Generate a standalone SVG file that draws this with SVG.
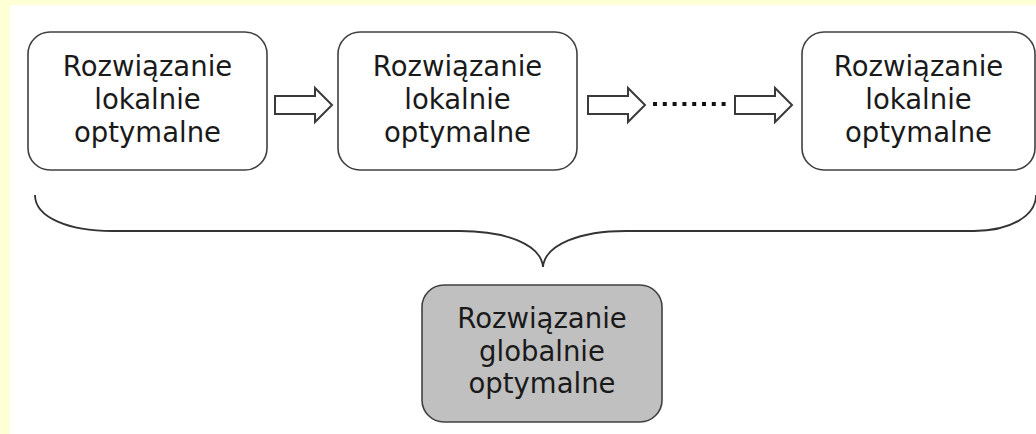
<svg xmlns="http://www.w3.org/2000/svg" width="1036" height="434" viewBox="0 0 1036 434">
  <style>
    .box { fill: #ffffff; stroke: #404040; stroke-width: 1.6; }
    .box.global { fill: #c0c0c0; }
    .label { font-family: "DejaVu Sans", Verdana, sans-serif; font-size: 27.5px; fill: #1a1a1a; text-anchor: middle; }
    .arrow { fill: #ffffff; stroke: #3a3a3a; stroke-width: 2; stroke-linejoin: miter; }
    .brace { fill: none; stroke: #333333; stroke-width: 1.8; }
    .dot { fill: #111111; }
  </style>
  <defs>
    <!-- hollow block arrow, origin at the left end of the shaft centre line -->
    <path id="block-arrow" d="M0,-9 H40 V-17 L57,0 L40,17 V9 H0 Z"/>
  </defs>

  <!-- page background with a pale yellow margin -->
  <rect x="0" y="0" width="1036" height="434" fill="#ffffd5"/>
  <rect x="10" y="5" width="1026" height="429" fill="#ffffff"/>

  <g id="node-local-1">
    <rect class="box" x="28" y="32" width="239" height="138" rx="22" ry="22"/>
    <text class="label" x="147.5" y="76">Rozwiązanie</text>
    <text class="label" x="147.5" y="109">lokalnie</text>
    <text class="label" x="147.5" y="142">optymalne</text>
  </g>

  <g id="node-local-2">
    <rect class="box" x="338" y="32" width="239" height="138" rx="22" ry="22"/>
    <text class="label" x="457.5" y="76">Rozwiązanie</text>
    <text class="label" x="457.5" y="109">lokalnie</text>
    <text class="label" x="457.5" y="142">optymalne</text>
  </g>

  <g id="node-local-n">
    <rect class="box" x="802" y="32" width="233" height="138" rx="22" ry="22"/>
    <text class="label" x="918.5" y="76">Rozwiązanie</text>
    <text class="label" x="918.5" y="109">lokalnie</text>
    <text class="label" x="918.5" y="142">optymalne</text>
  </g>

  <g id="node-global">
    <rect class="box global" x="422" y="285" width="240" height="137" rx="22" ry="22"/>
    <text class="label" x="542" y="328">Rozwiązanie</text>
    <text class="label" x="542" y="361">globalnie</text>
    <text class="label" x="542" y="393">optymalne</text>
  </g>

  <g id="connectors">
    <use href="#block-arrow" class="arrow" x="275" y="105"/>
    <use href="#block-arrow" class="arrow" x="588" y="105"/>
    <use href="#block-arrow" class="arrow" x="735" y="105"/>
    <!-- ellipsis between the second and the last arrow -->
    <g class="dots">
      <rect class="dot" x="653" y="102" width="4" height="4"/>
      <rect class="dot" x="662.8" y="102" width="4" height="4"/>
      <rect class="dot" x="672.6" y="102" width="4" height="4"/>
      <rect class="dot" x="682.4" y="102" width="4" height="4"/>
      <rect class="dot" x="692.2" y="102" width="4" height="4"/>
      <rect class="dot" x="702" y="102" width="4" height="4"/>
      <rect class="dot" x="711.8" y="102" width="4" height="4"/>
      <rect class="dot" x="721.6" y="102" width="4" height="4"/>
    </g>
    <!-- curly brace gathering all local solutions -->
    <path class="brace" d="M35,195 C35,218 70,231 112,231 H460 C505,231 541,244 543,267 C545,244 581,231 626,231 H974 C1010,231 1036,216 1036,195"/>
  </g>
</svg>
